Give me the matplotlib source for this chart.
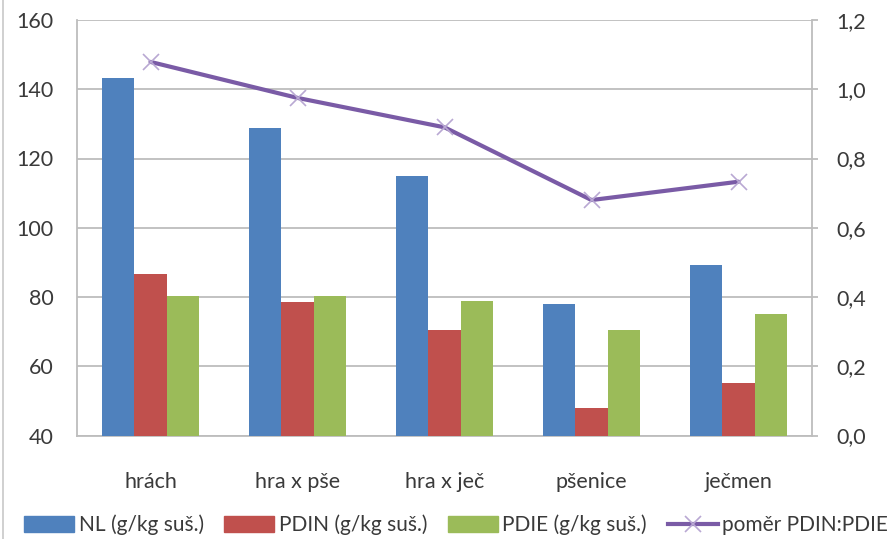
import numpy as np
import matplotlib
matplotlib.use("Agg")
import matplotlib.pyplot as plt
from matplotlib.lines import Line2D

# Feed varieties and their protein values
categories = ["hrách", "hra x pše", "hra x ječ", "pšenice", "ječmen"]
nl = [143.2, 128.8, 115.0, 77.9, 89.2]
pdin = [86.5, 78.7, 70.4, 47.8, 55.1]
pdie = [80.2, 80.3, 78.8, 70.4, 75.2]
ratio = [1.079, 0.975, 0.890, 0.680, 0.733]

left_ticks = [40, 60, 80, 100, 120, 140, 160]
right_ticks = [0.0, 0.2, 0.4, 0.6, 0.8, 1.0, 1.2]

series_labels = ["NL (g/kg suš.)", "PDIN (g/kg suš.)", "PDIE (g/kg suš.)", "poměr PDIN:PDIE"]
colors = ["#4F81BD", "#C0504D", "#9BBB59"]
line_color = "#7A5BA6"
marker_color = "#B9A8D3"
text_color = "#3A3A3A"
grid_color = "#BDBDBD"

plt.rcParams["font.family"] = ["Lato", "DejaVu Sans"]
plt.rcParams["font.size"] = 15

W, H = 894, 539
fig = plt.figure(figsize=(W / 100, H / 100), dpi=100)
ax = fig.add_axes([77 / W, 1 - 435.5 / H, (812 - 77) / W, (435.5 - 20) / H])

x = np.arange(len(categories))
bw = 0.222
for i, (vals, c) in enumerate(zip([nl, pdin, pdie], colors)):
    ax.bar(x + (i - 1) * bw, np.array(vals) - 40, bottom=40, width=bw,
           color=c, zorder=3, linewidth=0)

ax.set_xlim(-0.5, len(categories) - 0.5)
ax.set_ylim(40, 160)
ax.set_yticks(left_ticks)
ax.set_yticklabels([str(t) for t in left_ticks])
ax.set_xticks(x)
ax.set_xticklabels(categories)
ax.tick_params(axis="both", length=0, colors=text_color, labelsize=15.5)
ax.tick_params(axis="y", pad=17)
ax.tick_params(axis="x", pad=26)
ax.grid(axis="y", color=grid_color, linewidth=1.3, zorder=0)
for s in ["top", "right"]:
    ax.spines[s].set_visible(False)
for s in ["left", "bottom"]:
    ax.spines[s].set_color(grid_color)
    ax.spines[s].set_linewidth(1.3)

ax2 = ax.twinx()
ax2.plot(x, ratio, color=line_color, linewidth=3.0, zorder=4,
         solid_capstyle="round")
ax2.plot(x, ratio, linestyle="none", marker="x", markersize=12,
         markeredgewidth=1.2, color=marker_color, zorder=5)
ax2.set_ylim(0, 1.2)
ax2.set_yticks(right_ticks)
ax2.set_yticklabels([f"{t:.1f}".replace(".", ",") for t in right_ticks])
ax2.tick_params(axis="y", length=4.5, width=1.3, color=grid_color,
                colors=text_color, labelsize=15.5, pad=13)
ax2.tick_params(axis="y", color=grid_color)
for s in ["top", "left", "bottom"]:
    ax2.spines[s].set_visible(False)
ax2.spines["right"].set_color(grid_color)
ax2.spines["right"].set_linewidth(1.3)

# Legend below the plot
handles = [plt.Rectangle((0, 0), 1, 1, color=c) for c in colors]
handles.append(Line2D([0], [0], color=line_color, linewidth=3.0, marker="x",
                      markersize=12, markeredgewidth=1.2,
                      markeredgecolor=marker_color))
fig.legend(handles, series_labels, loc="center", ncol=4,
           bbox_to_anchor=(456 / W, 1 - 525 / H), frameon=False,
           fontsize=15, labelcolor=text_color, handlelength=2.4,
           handleheight=0.75, handletextpad=0.2, columnspacing=1.0)

# Thin frame line along the left edge of the chart area
fig.add_artist(Line2D([3 / W, 3 / W], [0, 1], color="#C8C8C8", linewidth=1.2,
                      transform=fig.transFigure))

fig.savefig("out.png", dpi=100, facecolor="white")
